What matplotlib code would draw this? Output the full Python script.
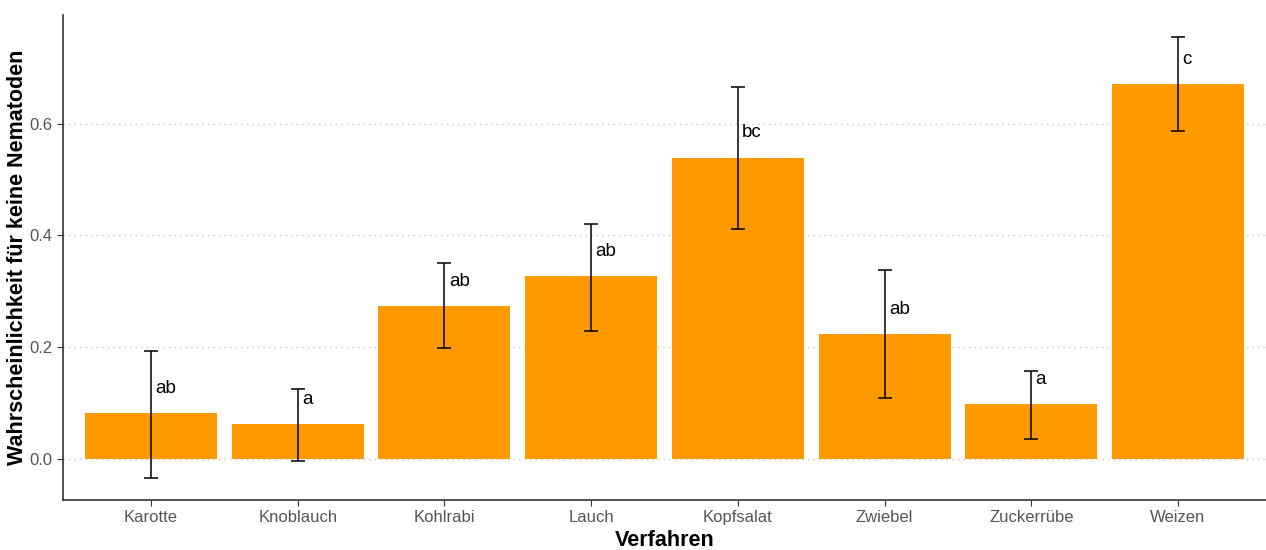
import matplotlib.pyplot as plt

plt.rcParams['font.family'] = ['Liberation Sans', 'DejaVu Sans']

verfahren = ['Karotte', 'Knoblauch', 'Kohlrabi', 'Lauch', 'Kopfsalat', 'Zwiebel', 'Zuckerrübe', 'Weizen']
mittel = [0.082, 0.062, 0.273, 0.327, 0.539, 0.223, 0.098, 0.670]
unten = [-0.034, -0.004, 0.198, 0.230, 0.411, 0.109, 0.036, 0.586]
oben = [0.193, 0.125, 0.350, 0.421, 0.666, 0.339, 0.157, 0.755]
gruppen = ['ab', 'a', 'ab', 'ab', 'bc', 'ab', 'a', 'c']

fig = plt.figure(figsize=(12.66, 5.5), dpi=100)
ax = fig.add_axes([63 / 1266, 50 / 550, 1203 / 1266, 485 / 550])

x = range(len(verfahren))
for y in [0.0, 0.2, 0.4, 0.6]:
    ax.axhline(y, color='#c8c8c8', linestyle=(0, (1, 3)), linewidth=1, zorder=0)

ax.bar(x, mittel, width=0.9, color='#ff9900', zorder=2)
err_lo = [m - u for m, u in zip(mittel, unten)]
err_hi = [o - m for m, o in zip(mittel, oben)]
ax.errorbar(x, mittel, yerr=[err_lo, err_hi], fmt='none', ecolor='black',
            elinewidth=1.1, capsize=5, capthick=1.1, zorder=3)

# Buchstaben der Signifikanzgruppen neben den Fehlerbalken
for i, (m, g) in enumerate(zip(mittel, gruppen)):
    ax.text(i + 0.03, m + 0.045, g, ha='left', va='center', fontsize=13.5, color='black', zorder=4)

ax.set_xlim(-0.6, len(verfahren) - 0.4)
ax.set_ylim(-0.073, 0.794)
ax.set_xticks(list(x))
ax.set_xticklabels(verfahren)
ax.set_yticks([0.0, 0.2, 0.4, 0.6])
ax.set_yticklabels(['0.0', '0.2', '0.4', '0.6'])
ax.tick_params(axis='both', colors='#333333', labelcolor='#555555', labelsize=12, length=4)

for s in ['top', 'right']:
    ax.spines[s].set_visible(False)
for s in ['left', 'bottom']:
    ax.spines[s].set_color('#333333')
    ax.spines[s].set_linewidth(1.2)

ax.set_xlabel('Verfahren', fontsize=15.5, fontweight='bold', labelpad=3)
ax.set_ylabel('Wahrscheinlichkeit für keine Nematoden', fontsize=15.5, fontweight='bold', labelpad=1)

fig.savefig('out.png', dpi=100)
